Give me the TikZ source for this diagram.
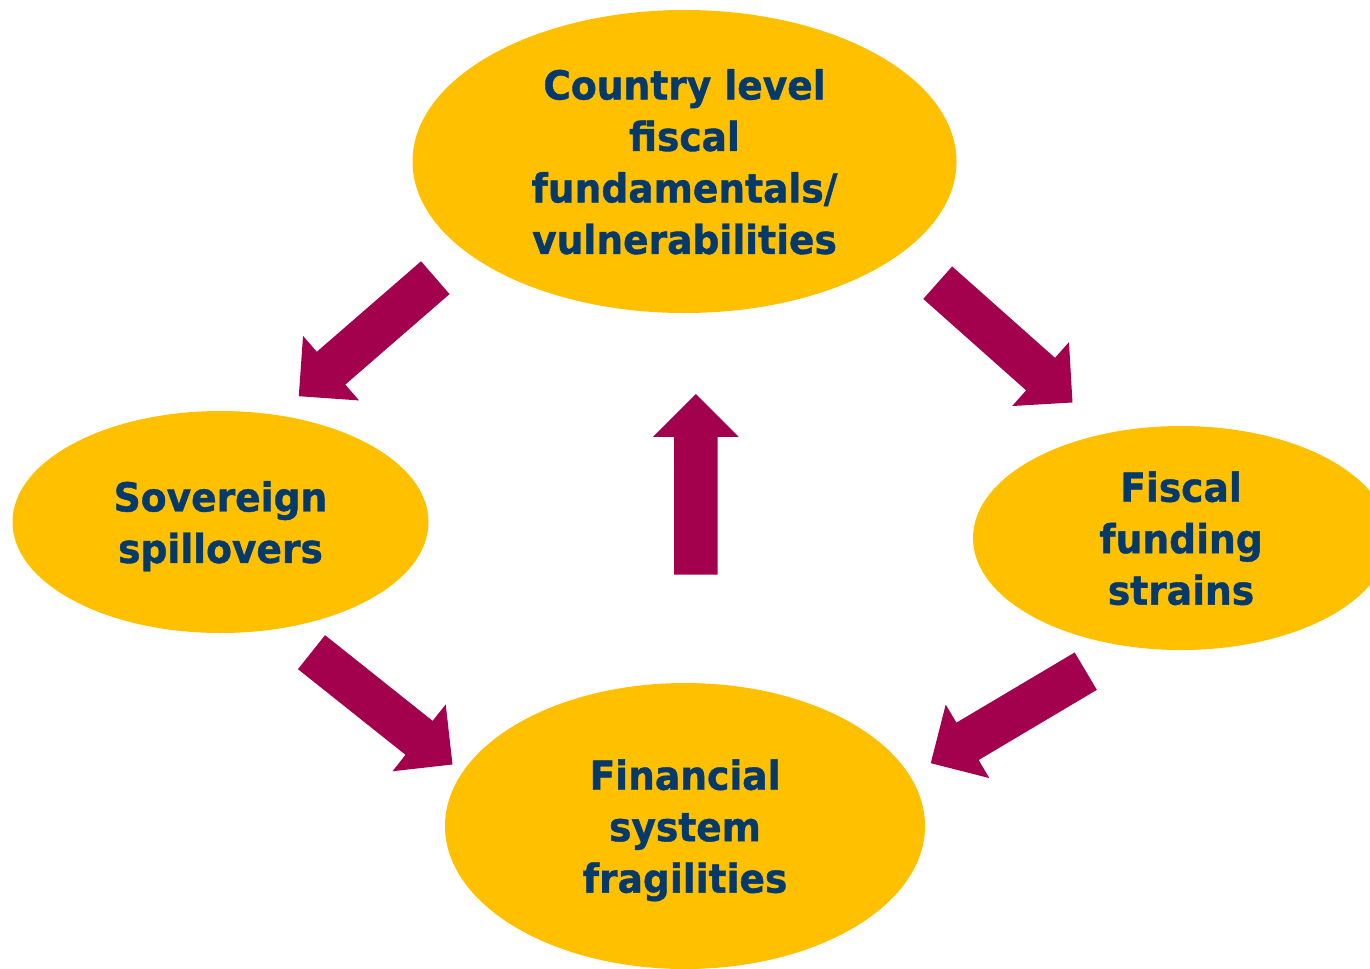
\documentclass[tikz,border=0pt]{standalone}
\usepackage{fontspec}
\setmainfont{DejaVu Sans}[FakeStretch=0.94, BoldFeatures={FakeBold=1}]
\usetikzlibrary{shapes.geometric,shapes.arrows,calc}
\definecolor{gold}{RGB}{255,192,0}
\definecolor{plum}{RGB}{163,0,77}
\definecolor{navy}{RGB}{4,57,107}
\newcommand\blockarrow[3]{%
  \path let \p1=($(#2)-(#1)$), \n1={atan2(\y1,\x1)}, \n2={veclen(\x1,\y1)} in
    node[blockarrow, minimum height=\n2, rotate=\n1, anchor=tail] (#3) at (#1) {};}
\begin{document}
\begin{tikzpicture}[x=0.75pt,y=-0.75pt,
  bubble/.style={ellipse, fill=gold, inner sep=0pt, text=navy, align=center,
    font=\bfseries\fontsize{30}{38.6}\selectfont, text depth=0pt},
  blockarrow/.style={single arrow, fill=plum, draw=none, inner xsep=0pt,
    inner ysep=16.1pt, single arrow head extend=15.75pt,
    single arrow tip angle=90, minimum width=0pt}]
\useasboundingbox (0,0) rectangle (1370,968);

\node[bubble, minimum width=408pt, minimum height=227.25pt] (country) at (684.5,161.5)
  {Country level\\fiscal\\fundamentals/\\vulnerabilities};
\node[bubble, minimum width=312pt, minimum height=166.5pt] (sovereign) at (220.5,522)
  {Sovereign\\spillovers};
\node[bubble, minimum width=312pt, minimum height=168pt] (funding) at (1181,538)
  {Fiscal\\funding\\strains};
\node[bubble, minimum width=360pt, minimum height=214.5pt] (financial) at (685,826)
  {Financial\\system\\fragilities};

\coordinate (t1) at (435.5,277.5);  \coordinate (h1) at (299,396);
\coordinate (t2) at (937.5,282.5);  \coordinate (h2) at (1072.3,402.3);
\coordinate (t3) at (695.8,575);    \coordinate (h3) at (695.8,394.3);
\coordinate (t4) at (311.3,652);    \coordinate (h4) at (452.3,764.3);
\coordinate (t5) at (1086,671);     \coordinate (h5) at (931,763);

\blockarrow{t1}{h1}{a1}
\blockarrow{t2}{h2}{a2}
\blockarrow{t3}{h3}{a3}
\blockarrow{t4}{h4}{a4}
\blockarrow{t5}{h5}{a5}
\end{tikzpicture}
\end{document}
